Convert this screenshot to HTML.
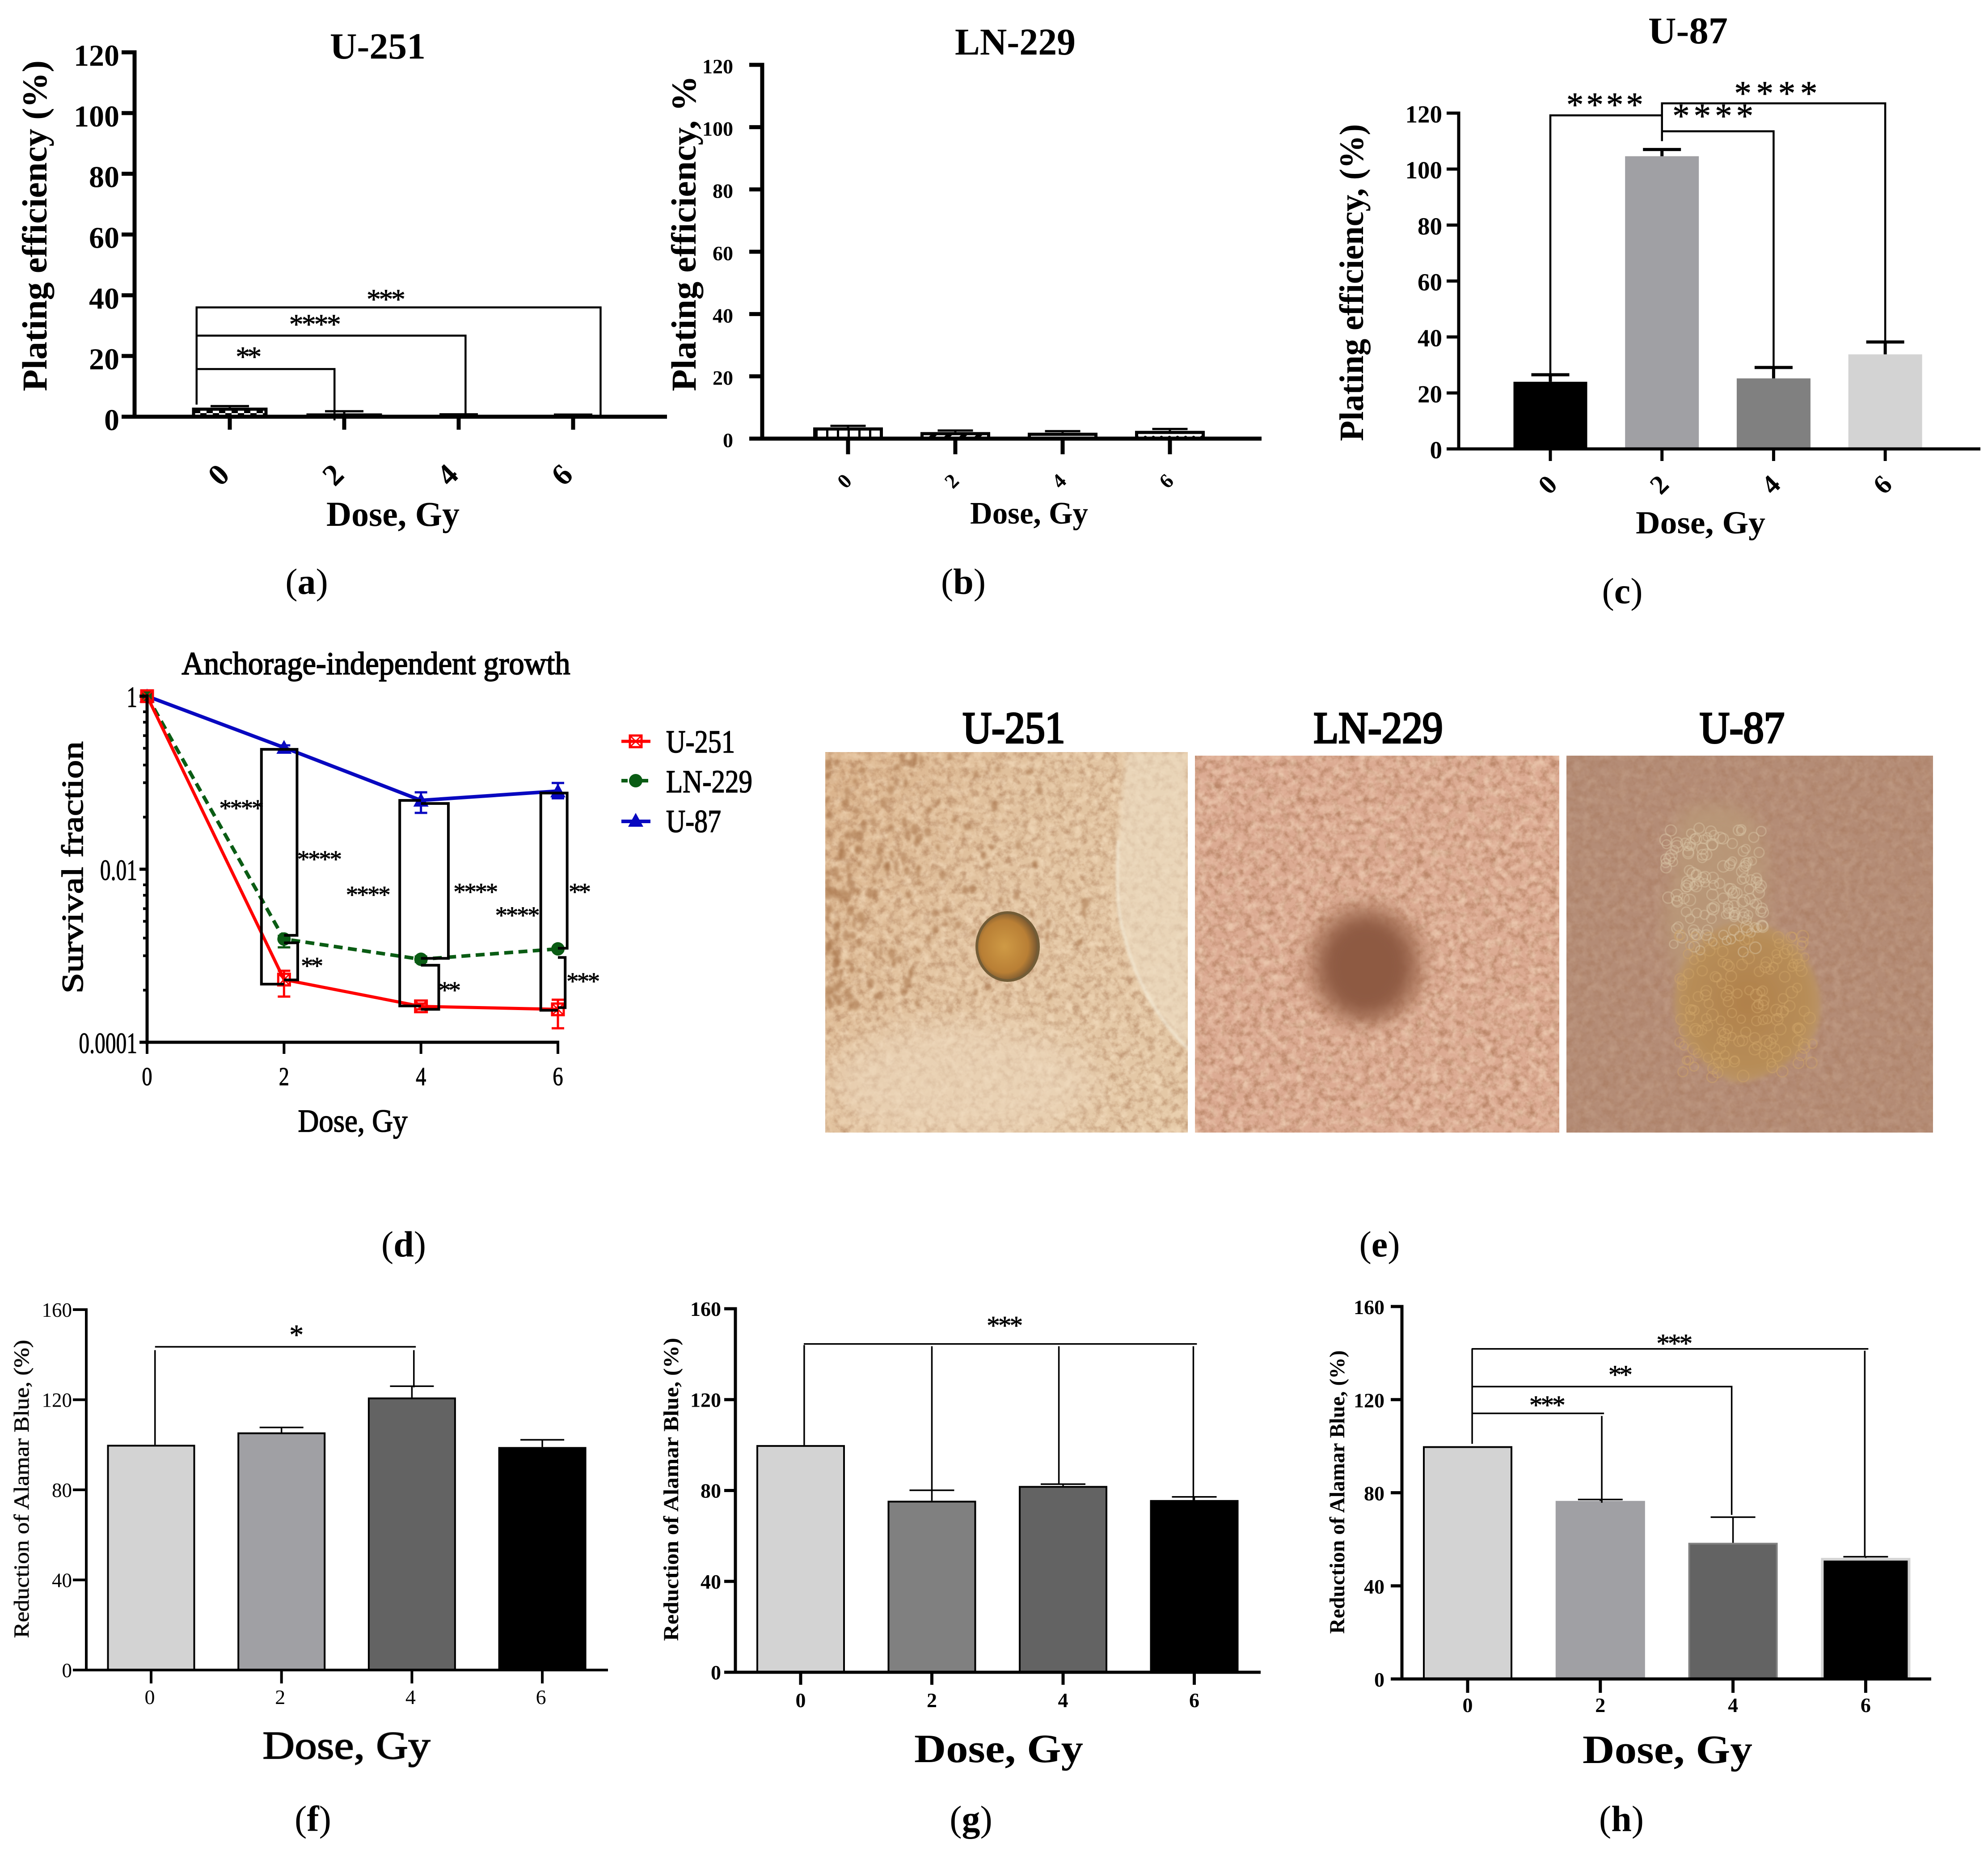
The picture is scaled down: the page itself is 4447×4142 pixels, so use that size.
<!DOCTYPE html>
<html lang="en">
<head>
<meta charset="utf-8">
<title>Radiation dose response panels</title>
<style>
html,body{margin:0;padding:0;background:#fff}
svg{display:block}
text{font-family:"Liberation Serif",serif;fill:#000}
.b{font-weight:bold}
</style>
</head>
<body>
<svg id="fig" width="4447" height="4142" viewBox="0 0 4447 4142">
<defs>
  <pattern id="patCheck" width="28" height="14" patternUnits="userSpaceOnUse"><rect width="28" height="14" fill="#fff"/><rect width="14" height="7" fill="#000"/><rect x="14" y="7" width="14" height="7" fill="#000"/></pattern>
  <pattern id="patGrid" width="24" height="24" patternUnits="userSpaceOnUse"><rect width="24" height="24" fill="#fff"/><rect width="5" height="24" fill="#000"/></pattern>
  <pattern id="patDiag" width="24" height="24" patternUnits="userSpaceOnUse" patternTransform="rotate(45)"><rect width="24" height="24" fill="#fff"/><rect width="10" height="24" fill="#000"/></pattern>
  <pattern id="patDots" width="18" height="12" patternUnits="userSpaceOnUse"><rect width="18" height="12" fill="#fff"/><circle cx="6" cy="6" r="3.5" fill="#000"/></pattern>
  <filter id="grainDark" x="0" y="0" width="1" height="1" color-interpolation-filters="sRGB"><feTurbulence type="fractalNoise" baseFrequency="0.06" numOctaves="4" seed="7"/><feColorMatrix type="matrix" values="0 0 0 0 .58  0 0 0 0 .36  0 0 0 0 .22  2.4 0 0 0 -1.0"/></filter>
  <filter id="grainLight" x="0" y="0" width="1" height="1" color-interpolation-filters="sRGB"><feTurbulence type="fractalNoise" baseFrequency="0.05" numOctaves="3" seed="19"/><feColorMatrix type="matrix" values="0 0 0 0 1  0 0 0 0 .93  0 0 0 0 .82  0 2.4 0 0 -1.0"/></filter>
  <filter id="blur3"><feGaussianBlur stdDeviation="3"/></filter>
  <filter id="blur6"><feGaussianBlur stdDeviation="6"/></filter>
  <filter id="blur18"><feGaussianBlur stdDeviation="18"/></filter>
  <filter id="blur35"><feGaussianBlur stdDeviation="35"/></filter>
  <clipPath id="clip1"><rect x="1846" y="1682" width="811" height="851"/></clipPath>
  <clipPath id="clip2"><rect x="2673" y="1690" width="815" height="843"/></clipPath>
  <clipPath id="clip3"><rect x="3504" y="1690" width="820" height="843"/></clipPath>
  <linearGradient id="tint1" x1="0" y1="0" x2="1" y2="0.5"><stop offset="0" stop-color="#c98f5e" stop-opacity=".38"/><stop offset=".5" stop-color="#c98f5e" stop-opacity=".08"/><stop offset="1" stop-color="#c98f5e" stop-opacity="0"/></linearGradient>
  <radialGradient id="colony1" cx=".45" cy=".5" r=".55"><stop offset="0" stop-color="#cf9a45"/><stop offset=".7" stop-color="#b97f35"/><stop offset="1" stop-color="#6d5130"/></radialGradient>
  <radialGradient id="colony3" cx=".5" cy=".5" r=".55"><stop offset="0" stop-color="#b0804a"/><stop offset=".75" stop-color="#b78d58"/><stop offset="1" stop-color="#bd9870"/></radialGradient>
</defs>
<rect width="4447" height="4142" fill="#fff"/>

<g id="staticText">
  <text class="b" x="845" y="131" font-size="83" text-anchor="middle" textLength="214" lengthAdjust="spacingAndGlyphs">U-251</text>
  <text class="b" x="104" y="505" transform="rotate(-90 104 505)" font-size="78" text-anchor="middle" textLength="740" lengthAdjust="spacingAndGlyphs">Plating efficiency (%)</text>
  <text class="b" x="879" y="1176" font-size="78" text-anchor="middle" textLength="298" lengthAdjust="spacingAndGlyphs">Dose, Gy</text>
  <text x="686" y="1328" font-size="82" text-anchor="middle">(<tspan class="b">a</tspan>)</text>

  <text class="b" x="2271" y="122" font-size="85" text-anchor="middle" textLength="270" lengthAdjust="spacingAndGlyphs">LN-229</text>
  <text class="b" x="1556" y="522" transform="rotate(-90 1556 522)" font-size="78" text-anchor="middle" textLength="706" lengthAdjust="spacingAndGlyphs">Plating efficiency, %</text>
  <text class="b" x="2302" y="1171" font-size="70" text-anchor="middle" textLength="264" lengthAdjust="spacingAndGlyphs">Dose, Gy</text>
  <text x="2155" y="1328" font-size="82" text-anchor="middle">(<tspan class="b">b</tspan>)</text>

  <text class="b" x="3776" y="97" font-size="85" text-anchor="middle" textLength="178" lengthAdjust="spacingAndGlyphs">U-87</text>
  <text class="b" x="3049" y="632" transform="rotate(-90 3049 632)" font-size="76" text-anchor="middle" textLength="709" lengthAdjust="spacingAndGlyphs">Plating efficiency, (%)</text>
  <text class="b" x="3804" y="1193" font-size="72" text-anchor="middle" textLength="290" lengthAdjust="spacingAndGlyphs">Dose, Gy</text>
  <text x="3629" y="1349" font-size="82" text-anchor="middle">(<tspan class="b">c</tspan>)</text>

  <text x="841" y="1508" font-size="72" stroke="#000" stroke-width="2" text-anchor="middle" textLength="869" lengthAdjust="spacingAndGlyphs">Anchorage-independent growth</text>
  <text x="185" y="1940" transform="rotate(-90 185 1940)" font-size="68" stroke="#000" stroke-width="1.6" text-anchor="middle" textLength="564" lengthAdjust="spacingAndGlyphs">Survival fraction</text>
  <text x="789" y="2531" font-size="72" stroke="#000" stroke-width="1.6" text-anchor="middle" textLength="245" lengthAdjust="spacingAndGlyphs">Dose, Gy</text>
  <text x="903" y="2810" font-size="82" text-anchor="middle">(<tspan class="b">d</tspan>)</text>
  <text x="1490" y="1683" font-size="72" stroke="#000" stroke-width="1.6" textLength="154" lengthAdjust="spacingAndGlyphs">U-251</text>
  <text x="1490" y="1772" font-size="72" stroke="#000" stroke-width="1.6" textLength="193" lengthAdjust="spacingAndGlyphs">LN-229</text>
  <text x="1490" y="1861" font-size="72" stroke="#000" stroke-width="1.6" textLength="123" lengthAdjust="spacingAndGlyphs">U-87</text>

  <text x="2268" y="1661" font-size="100" stroke="#000" stroke-width="4" text-anchor="middle" textLength="229" lengthAdjust="spacingAndGlyphs">U-251</text>
  <text x="3083" y="1661" font-size="100" stroke="#000" stroke-width="4" text-anchor="middle" textLength="289" lengthAdjust="spacingAndGlyphs">LN-229</text>
  <text x="3897" y="1661" font-size="100" stroke="#000" stroke-width="4" text-anchor="middle" textLength="190" lengthAdjust="spacingAndGlyphs">U-87</text>
  <text x="3086" y="2810" font-size="82" text-anchor="middle">(<tspan class="b">e</tspan>)</text>

  <text x="64" y="3330" transform="rotate(-90 64 3330)" font-size="48" stroke="#222" stroke-width="0.8" text-anchor="middle" textLength="667" lengthAdjust="spacingAndGlyphs">Reduction of Alamar Blue, (%)</text>
  <text x="775" y="3933" font-size="88" stroke="#111" stroke-width="2" text-anchor="middle" textLength="375" lengthAdjust="spacingAndGlyphs">Dose, Gy</text>
  <text x="700" y="4095" font-size="82" text-anchor="middle">(<tspan class="b">f</tspan>)</text>

  <text class="b" x="1517" y="3331" transform="rotate(-90 1517 3331)" font-size="48" text-anchor="middle" textLength="678" lengthAdjust="spacingAndGlyphs">Reduction of Alamar Blue, (%)</text>
  <text class="b" x="2234" y="3941" font-size="90" text-anchor="middle" textLength="378" lengthAdjust="spacingAndGlyphs">Dose, Gy</text>
  <text x="2172" y="4095" font-size="82" text-anchor="middle">(<tspan class="b">g</tspan>)</text>

  <text class="b" x="3007" y="3337" transform="rotate(-90 3007 3337)" font-size="48" text-anchor="middle" textLength="634" lengthAdjust="spacingAndGlyphs">Reduction of Alamar Blue, (%)</text>
  <text class="b" x="3730" y="3943" font-size="90" text-anchor="middle" textLength="380" lengthAdjust="spacingAndGlyphs">Dose, Gy</text>
  <text x="3627" y="4095" font-size="82" text-anchor="middle">(<tspan class="b">h</tspan>)</text>
</g>

<g clip-path="url(#clip1)">
  <rect x="1846" y="1682" width="811" height="851" fill="#e4c8a6"/>
  <rect x="1846" y="1682" width="811" height="851" fill="url(#tint1)"/>
  <rect x="1846" y="1682" width="811" height="851" filter="url(#grainDark)" opacity=".4"/>
  <rect x="1846" y="1682" width="811" height="851" filter="url(#grainLight)" opacity=".4"/>
  <ellipse cx="2150" cy="2420" rx="300" ry="130" fill="#efdcc2" opacity=".55" filter="url(#blur35)"/>
  <g id="specksU251" filter="url(#blur3)"></g>
  <path d="M2520 1682 C2495 1860 2495 2060 2515 2090 C2540 2200 2600 2290 2657 2345 L2657 1682 Z" fill="#eedfc6" opacity=".6" filter="url(#blur6)"/>
  <path d="M2502 1880 C2498 1980 2500 2050 2515 2090 C2540 2200 2600 2290 2657 2345" fill="none" stroke="#f5eedc" stroke-width="7" opacity=".7" filter="url(#blur3)"/>
  <ellipse cx="2254" cy="2117" rx="69" ry="76" fill="url(#colony1)" stroke="#725c36" stroke-width="6"/>
</g>
<g clip-path="url(#clip2)">
  <rect x="2673" y="1690" width="815" height="843" fill="#dcab93"/>
  <rect x="2673" y="1690" width="815" height="843" filter="url(#grainDark)" opacity=".45"/>
  <rect x="2673" y="1690" width="815" height="843" filter="url(#grainLight)" opacity=".4"/>
  <ellipse cx="3056" cy="2158" rx="135" ry="140" fill="#a97358" opacity=".7" filter="url(#blur18)"/>
  <ellipse cx="3056" cy="2160" rx="100" ry="108" fill="#8e5a42" filter="url(#blur18)"/>
</g>
<g clip-path="url(#clip3)">
  <rect x="3504" y="1690" width="820" height="843" fill="#b48c76"/>
  <rect x="3504" y="1690" width="820" height="843" filter="url(#grainDark)" opacity=".22"/>
  <rect x="3504" y="1690" width="820" height="843" filter="url(#grainLight)" opacity=".12"/>
  <path d="M3760 1820 C3790 1790 3900 1790 3930 1840 C3960 1900 3950 2000 3950 2060 C3960 2120 3980 2200 3950 2260 L3760 2200 C3730 2110 3710 2060 3740 1980 C3750 1920 3745 1860 3760 1820 Z" fill="#b99878" opacity=".9" filter="url(#blur18)"/>
  <path d="M3800 2110 C3860 2040 3970 2050 4030 2130 C4085 2200 4085 2300 4040 2340 C4000 2380 3950 2420 3875 2420 C3800 2380 3745 2320 3745 2240 C3745 2180 3770 2140 3800 2110 Z" fill="url(#colony3)" filter="url(#blur6)"/>
  <g id="cellsU87"></g>
</g>

<g id="plots"></g>
</svg>

<script>
/* ---------- shared categories ---------- */
const doseLabels = ['0', '2', '4', '6'];

/* ---------- chart a: U-251 plating efficiency ---------- */
const aTicks = [0, 20, 40, 60, 80, 100, 120];
const aValues = [3.0, 1.1, 0.3, 0.3];
const aErrors = [0.5, 0.7, 0.5, 0.4];
const aBrackets = [
  { pts: [[-0.29, 4], [-0.29, 36], [3.24, 36], [3.24, 0.44]], stars: '***', at: [1.365, 39] },
  { pts: [[-0.29, 26.7], [2.06, 26.7], [2.06, 0.7]], stars: '****', at: [0.745, 30.8] },
  { pts: [[-0.29, 15.7], [0.915, 15.7], [0.915, -1.2]], stars: '**', at: [0.165, 20.1] }
];

/* ---------- chart b: LN-229 plating efficiency ---------- */
const bTicks = [0, 20, 40, 60, 80, 100, 120];
const bValues = [3.6, 2.1, 1.9, 2.5];
const bErrors = [0.5, 0.5, 0.5, 0.6];

/* ---------- chart c: U-87 plating efficiency ---------- */
const cTicks = [0, 20, 40, 60, 80, 100, 120];
const cValues = [24, 104.6, 25.2, 33.8];
const cErrors = [2.5, 2.4, 3.9, 4.4];
const cBrackets = [
  { pts: [[0, 26.5], [0, 119.2], [1, 119.2]], stars: '****', at: [0.488, 123.4], len: 172 },
  { pts: [[1, 110], [1, 123.5], [3, 123.5], [3, 38.2]], stars: '****', at: [2.02, 127.5], len: 186 },
  { pts: [[1, 113.5], [2, 113.5], [2, 29]], stars: '****', at: [1.456, 119.4], len: 181 }
];

/* ---------- chart d: anchorage-independent growth ---------- */
const dDoses = [0, 2, 4, 6];
const dMajorTicks = [1, 0.01, 0.0001];
const dMajorLabels = ['1', '0.01', '0.0001'];
const dMinorTicks = [0.66, 0.5, 0.35, 0.25, 0.16, 0.1, 0.04, 0.0066, 0.005, 0.0035, 0.0025, 0.0016, 0.001, 0.0004];
const dU251 = [1, 0.00053, 0.00026, 0.00024];
const dU251Hi = [1, 0.00067, 0.00028, 0.00031];
const dU251Lo = [1, 0.000337, 0.00024, 0.000145];
const dLN229 = [1, 0.00156, 0.00091, 0.0012];
const dLN229Hi = [1, 0.0017, 0.00098, 0.00125];
const dLN229Lo = [1, 0.00125, 0.00085, 0.00115];
const dU87 = [1, 0.255, 0.0625, 0.08];
const dU87Hi = [1, 0.27, 0.0774, 0.0993];
const dU87Lo = [1, 0.24, 0.0448, 0.066];
/* bracket legs: dose, horizontal offset in Gy, survival at both ends */
const dBrackets = [
  [2, -0.33, 0.243, 0.00047], [2, 0.19, 0.243, 0.00172], [2, 0.2, 0.00141, 0.000525],
  [4, -0.31, 0.0624, 0.000263], [4, 0.4, 0.0575, 0.000933], [4, 0.26, 0.000776, 0.00024],
  [6, -0.25, 0.0759, 0.000234], [6, 0.135, 0.0759, 0.00122], [6, 0.106, 0.000955, 0.000251]
];
/* significance stars: label, dose, survival */
const dStars = [
  ['****', 1.38, 0.052], ['****', 2.52, 0.0134], ['****', 3.23, 0.0052], ['****', 4.8, 0.0056],
  ['****', 5.41, 0.003], ['**', 6.32, 0.0056], ['**', 2.41, 0.00078], ['**', 4.42, 0.00041], ['***', 6.37, 0.00052]
];

/* ---------- chart f: U-251 Alamar Blue ---------- */
const fTicks = [0, 40, 80, 120, 160];
const fValues = [100, 105.5, 121, 99];
const fErrors = [0, 2.2, 5, 3.2];
const fBrackets = [
  { pts: [[0.03, 143.5], [2.03, 143.5]], stars: '*', at: [1.115, 149.3] },
  { pts: [[0.03, 142], [0.03, 100]] },
  { pts: [[2.015, 142], [2.015, 125.5]] }
];

/* ---------- chart g: LN-229 Alamar Blue ---------- */
const gTicks = [0, 40, 80, 120, 160];
const gValues = [100, 75.5, 82, 75.8];
const gErrors = [0, 4.6, 0.8, 1.4];
const gBrackets = [
  { pts: [[0.024, 144.5], [3.02, 144.5]], stars: '***', at: [1.556, 153.1] },
  { pts: [[0.027, 144], [0.027, 100]] },
  { pts: [[1, 143.5], [1, 80]] },
  { pts: [[1.968, 143.5], [1.968, 82.5]] },
  { pts: [[2.993, 143.5], [2.993, 75.5]] }
];

/* ---------- chart h: U-87 Alamar Blue ---------- */
const hTicks = [0, 40, 80, 120, 160];
const hValues = [100, 76.5, 58.5, 52];
const hErrors = [0, 0.6, 11, 0.5];
const hBrackets = [
  { pts: [[0.03, 141.8], [3.02, 141.8]], stars: '***', at: [1.559, 144.6] },
  { pts: [[0.034, 141.8], [0.034, 101]] },
  { pts: [[2.993, 141], [2.993, 52.5]] },
  { pts: [[0.034, 125.6], [1.99, 125.6], [1.99, 70.5]], stars: '**', at: [1.152, 131.2] },
  { pts: [[0.034, 114.1], [1.028, 114.1]], stars: '***', at: [0.601, 118.1] },
  { pts: [[1.011, 113], [1.011, 75.7]] }
];

const NS = 'http://www.w3.org/2000/svg';
const plots = document.getElementById('plots');

function mk(tag, attrs, parent) {
  const el = document.createElementNS(NS, tag);
  for (const k in attrs) el.setAttribute(k, attrs[k]);
  parent.appendChild(el);
  return el;
}

function seg(parent, x1, y1, x2, y2, w, color) {
  return mk('line', { x1: x1, y1: y1, x2: x2, y2: y2, stroke: color || '#000', 'stroke-width': w }, parent);
}

function starText(parent, s, cx, cy, size, len) {
  const font = size * 1.1;
  const t = mk('text', {
    x: cx, y: cy + font * 0.37, 'font-size': font, 'text-anchor': 'middle', stroke: '#000', 'stroke-width': 0.8,
    textLength: len || s.length * size * 0.5
  }, parent);
  t.textContent = s;
  return t;
}

function drawBarChart(c) {
  const g = mk('g', {}, plots);
  
  
  const ys = v => c.y0 - (v / c.yMax) * (c.y0 - c.yTop);
  const xs = i => c.x0 + i * c.dx;

  c.values.forEach((v, i) => {
    const sw = c.barStrokeW[i];
    const bar = mk('rect', {
      x: xs(i) - c.barW / 2 + sw / 2, y: ys(v) + sw / 2,
      width: c.barW - sw, height: Math.max(0, c.y0 - ys(v) - sw / 2),
      fill: c.fills[i], stroke: c.barStroke[i], 'stroke-width': sw
    }, g);
    
    
    if (c.errors[i] > 0) {
      const stem = seg(g, xs(i), ys(v), xs(i), ys(v + c.errors[i]), c.errW);
      
      
      const cap = seg(g, xs(i) - c.capW / 2, ys(v + c.errors[i]), xs(i) + c.capW / 2, ys(v + c.errors[i]), c.errW);
      
      
    }
  });

  const yAxis = seg(g, c.axisX, c.yTop - c.axisW / 2, c.axisX, c.y0 + c.axisW / 2, c.axisW);
  
  
  const xAxis = seg(g, c.tickLeft, c.y0, c.xEnd, c.y0, c.axisW);
  
  

  c.ticks.forEach(v => {
    const tick = seg(g, c.tickLeft, ys(v), c.axisX, ys(v), c.tickW);
    
    
    const lab = mk('text', {
      x: c.yLabelX, y: ys(v) + c.yLabelDy, 'font-size': c.yLabelSize, 'text-anchor': 'end',
      'font-weight': c.tickWeight
    }, g);
    lab.textContent = String(v);
    
    
  });

  c.labels.forEach((s, i) => {
    const tick = seg(g, xs(i), c.y0, xs(i), c.tickBottom, c.tickW);
    
    
    const lx = xs(i) + c.xLabelDx;
    const ly = c.y0 + c.xLabelDy;
    const attrs = { x: lx, y: ly + c.xLabelSize * 0.33, 'font-size': c.xLabelSize, 'text-anchor': 'middle', 'font-weight': c.tickWeight };
    if (c.xLabelRotate) attrs.transform = 'rotate(' + c.xLabelRotate + ' ' + lx + ' ' + ly + ')';
    const lab = mk('text', attrs, g);
    lab.textContent = s;
    
    
  });

  (c.brackets || []).forEach((b, n) => {
    const line = mk('polyline', {
      points: b.pts.map(p => xs(p[0]) + ',' + ys(p[1])).join(' '),
      fill: 'none', stroke: '#000', 'stroke-width': c.bracketW
    }, g);
    
    
    if (b.stars) {
      const st = starText(g, b.stars, xs(b.at[0]), ys(b.at[1]), c.starSize, b.len);
      
      
    }
  });
}

const patternFillsA = ['url(#patCheck)', 'url(#patCheck)', 'url(#patCheck)', 'url(#patCheck)'];
const blackStroke = ['#000', '#000', '#000', '#000'];

drawBarChart({ id: 'a', labels: doseLabels, ticks: aTicks, values: aValues, errors: aErrors, brackets: aBrackets,
  yMax: 120, y0: 932, yTop: 117, axisX: 301, axisW: 9, tickW: 9, tickLeft: 272, xEnd: 1492, x0: 514, dx: 256, tickBottom: 961,
  barW: 169, capW: 86, errW: 5, fills: patternFillsA, barStroke: blackStroke, barStrokeW: [7, 6, 4, 4],
  yLabelX: 267, yLabelDy: 30, yLabelSize: 68, tickWeight: 'bold',
  xLabelDx: -25, xLabelDy: 130, xLabelSize: 68, xLabelRotate: -45, bracketW: 4.5, starSize: 58 });

drawBarChart({ id: 'b', labels: doseLabels, ticks: bTicks, values: bValues, errors: bErrors,
  yMax: 120, y0: 981, yTop: 145, axisX: 1705, axisW: 9, tickW: 9, tickLeft: 1676, xEnd: 2822, x0: 1897, dx: 240, tickBottom: 1016,
  barW: 156, capW: 79, errW: 5, fills: ['url(#patGrid)', 'url(#patDiag)', '#fff', 'url(#patDots)'], barStroke: blackStroke, barStrokeW: [7, 7, 7, 7],
  yLabelX: 1640, yLabelDy: 19, yLabelSize: 46, tickWeight: 'bold',
  xLabelDx: -8, xLabelDy: 95, xLabelSize: 46, xLabelRotate: -45, bracketW: 4, starSize: 58 });

drawBarChart({ id: 'c', labels: doseLabels, ticks: cTicks, values: cValues, errors: cErrors, brackets: cBrackets,
  yMax: 120, y0: 1004, yTop: 253, axisX: 3263, axisW: 7, tickW: 7, tickLeft: 3236, xEnd: 4430, x0: 3468, dx: 249.7, tickBottom: 1031,
  barW: 165, capW: 85, errW: 7, fills: ['#000', '#a0a0a4', '#808080', '#d3d3d3'], barStroke: ['none', 'none', 'none', 'none'], barStrokeW: [0, 0, 0, 0],
  yLabelX: 3226, yLabelDy: 21, yLabelSize: 55, tickWeight: 'bold',
  xLabelDx: -6, xLabelDy: 80, xLabelSize: 60, xLabelRotate: -45, bracketW: 4.5, starSize: 70 });

drawBarChart({ id: 'f', labels: doseLabels, ticks: fTicks, values: fValues, errors: fErrors, brackets: fBrackets,
  yMax: 160, y0: 3735, yTop: 2929, axisX: 193, axisW: 6, tickW: 6, tickLeft: 163, xEnd: 1360, x0: 338, dx: 291.7, tickBottom: 3765,
  barW: 197, capW: 98, errW: 3.5, fills: ['#d3d3d3', '#a0a0a4', '#636363', '#000'], barStroke: blackStroke, barStrokeW: [4, 4, 4, 4],
  yLabelX: 161, yLabelDy: 16, yLabelSize: 45, tickWeight: 'normal',
  xLabelDx: -3, xLabelDy: 61, xLabelSize: 46, xLabelRotate: 0, bracketW: 3.5, starSize: 58 });

drawBarChart({ id: 'g', labels: doseLabels, ticks: gTicks, values: gValues, errors: gErrors, brackets: gBrackets,
  yMax: 160, y0: 3740, yTop: 2927, axisX: 1645, axisW: 7, tickW: 7, tickLeft: 1620, xEnd: 2820, x0: 1791, dx: 293.5, tickBottom: 3768,
  barW: 198, capW: 100, errW: 3.5, fills: ['#d3d3d3', '#808080', '#636363', '#000'], barStroke: blackStroke, barStrokeW: [4, 4, 4, 4],
  yLabelX: 1613, yLabelDy: 16, yLabelSize: 46, tickWeight: 'bold',
  xLabelDx: 0, xLabelDy: 63, xLabelSize: 46, xLabelRotate: 0, bracketW: 3.5, starSize: 54 });

drawBarChart({ id: 'h', labels: doseLabels, ticks: hTicks, values: hValues, errors: hErrors, brackets: hBrackets,
  yMax: 160, y0: 3755, yTop: 2922, axisX: 3136, axisW: 7, tickW: 7, tickLeft: 3111, xEnd: 4320, x0: 3283, dx: 296.8, tickBottom: 3786,
  barW: 200, capW: 100, errW: 3.5, fills: ['#d3d3d3', '#a0a0a4', '#636363', '#000'], barStroke: ['#000', '#a0a0a4', '#808080', '#d3d3d3'], barStrokeW: [4, 2, 4, 6],
  yLabelX: 3097, yLabelDy: 17, yLabelSize: 46, tickWeight: 'bold',
  xLabelDx: 0, xLabelDy: 59, xLabelSize: 46, xLabelRotate: 0, bracketW: 3.5, starSize: 54 });

/* ---------- chart d drawing ---------- */
function drawSurvivalChart() {
  const g = mk('g', {}, plots);
  
  
  const X0 = 329, X6 = 1248, YTOP = 1557, YBOT = 2331;
  const xs = d => X0 + (d / 6) * (X6 - X0);
  const ys = v => YTOP + (-Math.log10(v) / 4) * (YBOT - YTOP);

  function marker(kind, cx, cy, color, parent) {
    let m;
    if (kind === 'square') {
      m = mk('g', {}, parent);
      mk('rect', { x: cx - 13, y: cy - 13, width: 26, height: 26, fill: 'none', stroke: color, 'stroke-width': 5 }, m);
      mk('path', { d: 'M' + (cx - 11) + ' ' + (cy - 11) + 'L' + (cx + 11) + ' ' + (cy + 11) + 'M' + (cx + 11) + ' ' + (cy - 11) + 'L' + (cx - 11) + ' ' + (cy + 11), stroke: color, 'stroke-width': 3, fill: 'none' }, m);
    } else if (kind === 'circle') {
      m = mk('circle', { cx: cx, cy: cy, r: 15, fill: color }, parent);
    } else {
      m = mk('path', { d: 'M' + cx + ' ' + (cy - 17) + 'L' + (cx + 17) + ' ' + (cy + 14) + 'L' + (cx - 17) + ' ' + (cy + 14) + 'Z', fill: color }, parent);
    }
    return m;
  }

  function series(name, vals, hi, lo, color, kind, width, dash) {
    const sg = mk('g', {}, g);
    
    
    const attrs = {
      points: vals.map((v, i) => xs(dDoses[i]) + ',' + ys(v)).join(' '),
      fill: 'none', stroke: color, 'stroke-width': width
    };
    if (dash) attrs['stroke-dasharray'] = dash;
    const line = mk('polyline', attrs, sg);
    
    
    vals.forEach((v, i) => {
      const x = xs(dDoses[i]);
      if (hi[i] !== lo[i]) {
        const stem = seg(sg, x, ys(hi[i]), x, ys(lo[i]), 5, color);
        
        
        const capHi = seg(sg, x - 14, ys(hi[i]), x + 14, ys(hi[i]), 5, color);
        
        
        const capLo = seg(sg, x - 14, ys(lo[i]), x + 14, ys(lo[i]), 5, color);
        
        
      }
      const m = marker(kind, x, ys(v), color, sg);
      
      
    });
  }

  series('u87', dU87, dU87Hi, dU87Lo, '#0808c0', 'triangle', 8);
  series('ln229', dLN229, dLN229Hi, dLN229Lo, '#0a5c14', 'circle', 8, '20 12');
  series('u251', dU251, dU251Hi, dU251Lo, '#ff0000', 'square', 7);

  dBrackets.forEach((b, n) => {
    const x = xs(b[0]);
    const xo = xs(b[0] + b[1]);
    const br = mk('polyline', {
      points: x + ',' + ys(b[2]) + ' ' + xo + ',' + ys(b[2]) + ' ' + xo + ',' + ys(b[3]) + ' ' + x + ',' + ys(b[3]),
      fill: 'none', stroke: '#000', 'stroke-width': 6
    }, g);
    
    
  });

  dStars.forEach((s, n) => {
    const st = starText(g, s[0], xs(s[1]), ys(s[2]), 50);
    
    
  });

  const yAxis = seg(g, X0, YTOP - 4, X0, YBOT + 4, 7);
  
  
  const xAxis = seg(g, 312, YBOT, X6 + 3, YBOT, 7);
  
  

  dMajorTicks.forEach((v, i) => {
    const tick = seg(g, 312, ys(v), X0, ys(v), 7);
    
    
    const lab = mk('text', { x: 307, y: ys(v) + 24, 'font-size': 66, 'text-anchor': 'end', stroke: '#000', 'stroke-width': 1 }, g);
    lab.textContent = dMajorLabels[i];
    lab.setAttribute('textLength', lab.getComputedTextLength() * 0.72);
    lab.setAttribute('lengthAdjust', 'spacingAndGlyphs');
    
    
  });
  dMinorTicks.forEach((v, i) => {
    const tick = seg(g, 320, ys(v), X0, ys(v), 6);
    
    
  });
  dDoses.forEach((d, i) => {
    const tick = seg(g, xs(d), YBOT, xs(d), 2357, 6);
    
    
    const lab = mk('text', { x: xs(d), y: 2427, 'font-size': 58, 'text-anchor': 'middle', stroke: '#000', 'stroke-width': 1 }, g);
    lab.textContent = doseLabels[i];
    lab.setAttribute('textLength', lab.getComputedTextLength() * 0.8);
    lab.setAttribute('lengthAdjust', 'spacingAndGlyphs');
    
    
  });

  /* legend swatches */
  const lg = mk('g', {}, g);
  
  
  const l1 = seg(lg, 1390, 1658, 1455, 1658, 7, '#ff0000');
  
  
  const m1 = marker('square', 1422, 1658, '#ff0000', lg);
  
  
  const l2 = mk('line', { x1: 1390, y1: 1746, x2: 1455, y2: 1746, stroke: '#0a5c14', 'stroke-width': 8, 'stroke-dasharray': '14 9' }, lg);
  
  
  const m2 = marker('circle', 1422, 1746, '#0a5c14', lg);
  
  
  const l3 = seg(lg, 1390, 1837, 1455, 1837, 8, '#0808c0');
  
  
  const m3 = marker('triangle', 1422, 1835, '#0808c0', lg);
  
  
}
drawSurvivalChart();

/* ---------- decorative texture for the micrographs (not chart data) ---------- */
(function () {
  let s = 12345;
  const rnd = () => (s = (s * 1103515245 + 12345) % 2147483648) / 2147483648;

  const cellHost = document.getElementById('cellsU87');
  for (let i = 0; i < 300; i++) {
    const upper = i < 150;
    const cx = upper ? 3835 + (rnd() - 0.5) * 220 : 3905 + (rnd() - 0.5) * 300;
    const cy = upper ? 1850 + rnd() * 280 : 2090 + rnd() * 320;
    const cell = mk('circle', { cx: cx, cy: cy, r: 9 + rnd() * 4, fill: 'none', stroke: upper ? '#d8c4a4' : '#cfa468', 'stroke-width': 3, opacity: 0.45 }, cellHost);
    
    
  }

  const speckHost = document.getElementById('specksU251');
  for (let i = 0; i < 170; i++) {
    const cx = 1850 + rnd() * rnd() * 620;
    const cy = 1690 + rnd() * 560;
    const speck = mk('ellipse', { cx: cx, cy: cy, rx: 4 + rnd() * 5, ry: 6 + rnd() * 7, fill: '#a8744a', opacity: 0.55 }, speckHost);
    
    
  }
})();
</script>
</body>
</html>
